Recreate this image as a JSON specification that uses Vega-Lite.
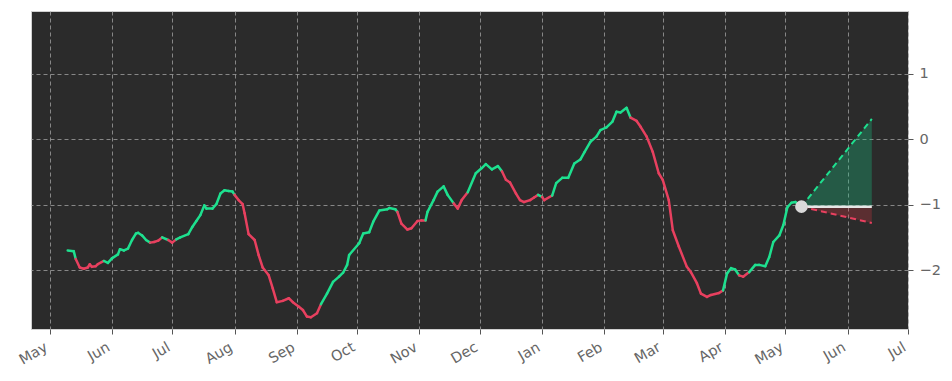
{
  "$schema": "https://vega.github.io/schema/vega-lite/v6.json",
  "width": 877,
  "height": 318,
  "autosize": {"type": "none"},
  "padding": {"left": 31, "top": 11, "right": 44, "bottom": 52},
  "background": "white",
  "config": {
    "view": {"fill": "#2b2b2b", "stroke": "#d0d0d0", "strokeWidth": 1},
    "axis": {"gridColor": "#a0a0a0", "gridDash": [4, 3], "gridWidth": 0.8, "domain": false, "tickColor": "#555555", "tickSize": 5, "labelColor": "#666666", "labelFont": "DejaVu Sans", "labelFontSize": 14.5, "title": null}
  },
  "layer": [
    {
      "data": {"values": [
        {"date": "2024/05/09", "base": -1.03, "upper": -1.03, "lower": -1.03},
        {"date": "2024/06/13", "base": -1.03, "upper": 0.31, "lower": -1.28}
      ], "format": {"parse": {"date": "date"}}},
      "layer": [
        {"mark": {"type": "area", "color": "#16c784", "opacity": 0.3},
         "encoding": {"x": {"field": "date", "type": "temporal"}, "y": {"field": "upper", "type": "quantitative"}, "y2": {"field": "base"}}},
        {"mark": {"type": "area", "color": "#ea3943", "opacity": 0.25},
         "encoding": {"x": {"field": "date", "type": "temporal"}, "y": {"field": "base", "type": "quantitative"}, "y2": {"field": "lower"}}}
      ]
    },
    {
      "data": {"values": [
        {"date": "2023/05/10", "value": -1.70, "trend": "up"},
        {"date": "2023/05/13", "value": -1.71, "trend": "up"},
        {"date": "2023/05/14", "value": -1.83, "trend": "down"},
        {"date": "2023/05/16", "value": -1.96, "trend": "down"},
        {"date": "2023/05/18", "value": -1.98, "trend": "down"},
        {"date": "2023/05/20", "value": -1.96, "trend": "down"},
        {"date": "2023/05/21", "value": -1.91, "trend": "down"},
        {"date": "2023/05/22", "value": -1.95, "trend": "down"},
        {"date": "2023/05/24", "value": -1.94, "trend": "down"},
        {"date": "2023/05/25", "value": -1.91, "trend": "down"},
        {"date": "2023/05/28", "value": -1.86, "trend": "up"},
        {"date": "2023/05/30", "value": -1.89, "trend": "up"},
        {"date": "2023/06/01", "value": -1.82, "trend": "up"},
        {"date": "2023/06/04", "value": -1.76, "trend": "up"},
        {"date": "2023/06/05", "value": -1.68, "trend": "up"},
        {"date": "2023/06/07", "value": -1.70, "trend": "up"},
        {"date": "2023/06/09", "value": -1.67, "trend": "up"},
        {"date": "2023/06/11", "value": -1.54, "trend": "up"},
        {"date": "2023/06/13", "value": -1.44, "trend": "up"},
        {"date": "2023/06/14", "value": -1.43, "trend": "up"},
        {"date": "2023/06/16", "value": -1.47, "trend": "up"},
        {"date": "2023/06/18", "value": -1.54, "trend": "up"},
        {"date": "2023/06/20", "value": -1.58, "trend": "down"},
        {"date": "2023/06/22", "value": -1.57, "trend": "down"},
        {"date": "2023/06/24", "value": -1.55, "trend": "down"},
        {"date": "2023/06/26", "value": -1.50, "trend": "up"},
        {"date": "2023/06/29", "value": -1.54, "trend": "down"},
        {"date": "2023/07/01", "value": -1.58, "trend": "down"},
        {"date": "2023/07/03", "value": -1.53, "trend": "up"},
        {"date": "2023/07/05", "value": -1.50, "trend": "up"},
        {"date": "2023/07/09", "value": -1.45, "trend": "up"},
        {"date": "2023/07/11", "value": -1.34, "trend": "up"},
        {"date": "2023/07/13", "value": -1.25, "trend": "up"},
        {"date": "2023/07/15", "value": -1.16, "trend": "up"},
        {"date": "2023/07/17", "value": -1.01, "trend": "up"},
        {"date": "2023/07/18", "value": -1.06, "trend": "up"},
        {"date": "2023/07/21", "value": -1.06, "trend": "up"},
        {"date": "2023/07/23", "value": -0.99, "trend": "up"},
        {"date": "2023/07/25", "value": -0.83, "trend": "up"},
        {"date": "2023/07/27", "value": -0.78, "trend": "up"},
        {"date": "2023/07/29", "value": -0.79, "trend": "up"},
        {"date": "2023/07/31", "value": -0.80, "trend": "up"},
        {"date": "2023/08/01", "value": -0.85, "trend": "down"},
        {"date": "2023/08/03", "value": -0.93, "trend": "down"},
        {"date": "2023/08/05", "value": -0.99, "trend": "down"},
        {"date": "2023/08/06", "value": -1.13, "trend": "down"},
        {"date": "2023/08/08", "value": -1.45, "trend": "down"},
        {"date": "2023/08/11", "value": -1.54, "trend": "down"},
        {"date": "2023/08/13", "value": -1.77, "trend": "down"},
        {"date": "2023/08/15", "value": -1.96, "trend": "down"},
        {"date": "2023/08/18", "value": -2.08, "trend": "down"},
        {"date": "2023/08/20", "value": -2.28, "trend": "down"},
        {"date": "2023/08/22", "value": -2.49, "trend": "down"},
        {"date": "2023/08/25", "value": -2.47, "trend": "down"},
        {"date": "2023/08/28", "value": -2.43, "trend": "down"},
        {"date": "2023/08/30", "value": -2.49, "trend": "down"},
        {"date": "2023/09/02", "value": -2.56, "trend": "down"},
        {"date": "2023/09/04", "value": -2.61, "trend": "down"},
        {"date": "2023/09/06", "value": -2.71, "trend": "down"},
        {"date": "2023/09/08", "value": -2.72, "trend": "down"},
        {"date": "2023/09/11", "value": -2.66, "trend": "down"},
        {"date": "2023/09/13", "value": -2.52, "trend": "up"},
        {"date": "2023/09/16", "value": -2.36, "trend": "up"},
        {"date": "2023/09/19", "value": -2.18, "trend": "up"},
        {"date": "2023/09/22", "value": -2.10, "trend": "up"},
        {"date": "2023/09/24", "value": -2.04, "trend": "up"},
        {"date": "2023/09/26", "value": -1.92, "trend": "up"},
        {"date": "2023/09/27", "value": -1.77, "trend": "up"},
        {"date": "2023/10/02", "value": -1.59, "trend": "up"},
        {"date": "2023/10/04", "value": -1.44, "trend": "up"},
        {"date": "2023/10/07", "value": -1.42, "trend": "up"},
        {"date": "2023/10/09", "value": -1.26, "trend": "up"},
        {"date": "2023/10/12", "value": -1.09, "trend": "up"},
        {"date": "2023/10/16", "value": -1.07, "trend": "up"},
        {"date": "2023/10/17", "value": -1.05, "trend": "up"},
        {"date": "2023/10/20", "value": -1.07, "trend": "up"},
        {"date": "2023/10/21", "value": -1.11, "trend": "down"},
        {"date": "2023/10/23", "value": -1.29, "trend": "down"},
        {"date": "2023/10/26", "value": -1.38, "trend": "down"},
        {"date": "2023/10/28", "value": -1.36, "trend": "down"},
        {"date": "2023/10/31", "value": -1.25, "trend": "down"},
        {"date": "2023/11/02", "value": -1.24, "trend": "down"},
        {"date": "2023/11/04", "value": -1.24, "trend": "up"},
        {"date": "2023/11/05", "value": -1.11, "trend": "up"},
        {"date": "2023/11/08", "value": -0.93, "trend": "up"},
        {"date": "2023/11/10", "value": -0.80, "trend": "up"},
        {"date": "2023/11/13", "value": -0.72, "trend": "up"},
        {"date": "2023/11/15", "value": -0.85, "trend": "up"},
        {"date": "2023/11/18", "value": -0.98, "trend": "down"},
        {"date": "2023/11/20", "value": -1.06, "trend": "down"},
        {"date": "2023/11/22", "value": -0.93, "trend": "down"},
        {"date": "2023/11/25", "value": -0.81, "trend": "up"},
        {"date": "2023/11/29", "value": -0.52, "trend": "up"},
        {"date": "2023/12/02", "value": -0.44, "trend": "up"},
        {"date": "2023/12/04", "value": -0.38, "trend": "up"},
        {"date": "2023/12/07", "value": -0.46, "trend": "up"},
        {"date": "2023/12/10", "value": -0.41, "trend": "up"},
        {"date": "2023/12/12", "value": -0.49, "trend": "down"},
        {"date": "2023/12/14", "value": -0.62, "trend": "down"},
        {"date": "2023/12/16", "value": -0.66, "trend": "down"},
        {"date": "2023/12/19", "value": -0.83, "trend": "down"},
        {"date": "2023/12/21", "value": -0.93, "trend": "down"},
        {"date": "2023/12/23", "value": -0.96, "trend": "down"},
        {"date": "2023/12/26", "value": -0.93, "trend": "down"},
        {"date": "2023/12/28", "value": -0.89, "trend": "down"},
        {"date": "2023/12/30", "value": -0.85, "trend": "up"},
        {"date": "2024/01/01", "value": -0.88, "trend": "down"},
        {"date": "2024/01/02", "value": -0.93, "trend": "down"},
        {"date": "2024/01/06", "value": -0.86, "trend": "up"},
        {"date": "2024/01/08", "value": -0.67, "trend": "up"},
        {"date": "2024/01/11", "value": -0.59, "trend": "up"},
        {"date": "2024/01/14", "value": -0.59, "trend": "up"},
        {"date": "2024/01/17", "value": -0.37, "trend": "up"},
        {"date": "2024/01/20", "value": -0.31, "trend": "up"},
        {"date": "2024/01/22", "value": -0.20, "trend": "up"},
        {"date": "2024/01/25", "value": -0.04, "trend": "up"},
        {"date": "2024/01/28", "value": 0.04, "trend": "up"},
        {"date": "2024/01/30", "value": 0.14, "trend": "up"},
        {"date": "2024/02/02", "value": 0.18, "trend": "up"},
        {"date": "2024/02/05", "value": 0.27, "trend": "up"},
        {"date": "2024/02/07", "value": 0.42, "trend": "up"},
        {"date": "2024/02/09", "value": 0.41, "trend": "up"},
        {"date": "2024/02/12", "value": 0.48, "trend": "up"},
        {"date": "2024/02/14", "value": 0.33, "trend": "down"},
        {"date": "2024/02/17", "value": 0.28, "trend": "down"},
        {"date": "2024/02/19", "value": 0.19, "trend": "down"},
        {"date": "2024/02/22", "value": 0.04, "trend": "down"},
        {"date": "2024/02/25", "value": -0.19, "trend": "down"},
        {"date": "2024/02/28", "value": -0.52, "trend": "down"},
        {"date": "2024/03/01", "value": -0.62, "trend": "down"},
        {"date": "2024/03/04", "value": -0.93, "trend": "down"},
        {"date": "2024/03/06", "value": -1.39, "trend": "down"},
        {"date": "2024/03/09", "value": -1.64, "trend": "down"},
        {"date": "2024/03/13", "value": -1.95, "trend": "down"},
        {"date": "2024/03/15", "value": -2.03, "trend": "down"},
        {"date": "2024/03/18", "value": -2.20, "trend": "down"},
        {"date": "2024/03/20", "value": -2.36, "trend": "down"},
        {"date": "2024/03/23", "value": -2.41, "trend": "down"},
        {"date": "2024/03/25", "value": -2.38, "trend": "down"},
        {"date": "2024/03/29", "value": -2.35, "trend": "down"},
        {"date": "2024/03/31", "value": -2.31, "trend": "up"},
        {"date": "2024/04/02", "value": -2.05, "trend": "up"},
        {"date": "2024/04/04", "value": -1.97, "trend": "up"},
        {"date": "2024/04/06", "value": -1.99, "trend": "up"},
        {"date": "2024/04/08", "value": -2.08, "trend": "down"},
        {"date": "2024/04/10", "value": -2.10, "trend": "down"},
        {"date": "2024/04/13", "value": -2.03, "trend": "up"},
        {"date": "2024/04/16", "value": -1.92, "trend": "up"},
        {"date": "2024/04/18", "value": -1.92, "trend": "up"},
        {"date": "2024/04/21", "value": -1.94, "trend": "up"},
        {"date": "2024/04/23", "value": -1.80, "trend": "up"},
        {"date": "2024/04/25", "value": -1.57, "trend": "up"},
        {"date": "2024/04/28", "value": -1.47, "trend": "up"},
        {"date": "2024/04/30", "value": -1.31, "trend": "up"},
        {"date": "2024/05/02", "value": -1.04, "trend": "up"},
        {"date": "2024/05/04", "value": -0.97, "trend": "up"},
        {"date": "2024/05/06", "value": -0.96, "trend": "up"},
        {"date": "2024/05/09", "value": -1.03, "trend": "up"}
      ], "format": {"parse": {"date": "date"}}},
      "transform": [
        {"window": [{"op": "lead", "field": "date", "as": "date2"}, {"op": "lead", "field": "value", "as": "value2"}], "sort": [{"field": "date"}]},
        {"filter": "datum.value2 != null"}
      ],
      "mark": {"type": "rule", "strokeWidth": 2.5, "strokeCap": "round"},
      "encoding": {
        "x": {"field": "date", "type": "temporal",
              "scale": {"domain": [{"year": 2023, "month": 4, "date": 21, "hours": 18}, {"year": 2024, "month": 7, "date": 1}]},
              "axis": {"values": [
                {"year": 2023, "month": 5, "date": 1}, {"year": 2023, "month": 6, "date": 1}, {"year": 2023, "month": 7, "date": 1},
                {"year": 2023, "month": 8, "date": 1}, {"year": 2023, "month": 9, "date": 1}, {"year": 2023, "month": 10, "date": 1},
                {"year": 2023, "month": 11, "date": 1}, {"year": 2023, "month": 12, "date": 1}, {"year": 2024, "month": 1, "date": 1},
                {"year": 2024, "month": 2, "date": 1}, {"year": 2024, "month": 3, "date": 1}, {"year": 2024, "month": 4, "date": 1},
                {"year": 2024, "month": 5, "date": 1}, {"year": 2024, "month": 6, "date": 1}, {"year": 2024, "month": 7, "date": 1}],
                "format": "%b", "labelAngle": -30, "labelAlign": "right", "labelBaseline": "top", "labelPadding": 6, "labelOffset": -7, "grid": true, "title": null}},
        "x2": {"field": "date2"},
        "y": {"field": "value", "type": "quantitative",
              "scale": {"domain": [-2.9, 1.96], "nice": false, "zero": false},
              "axis": {"orient": "right", "values": [-2, -1, 0, 1], "format": "d", "grid": true, "labelPadding": 6, "title": null}},
        "y2": {"field": "value2"},
        "color": {"field": "trend", "type": "nominal", "scale": {"domain": ["up", "down"], "range": ["#1ee08f", "#e8405f"]}, "legend": null}
      }
    },
    {
      "data": {"values": [
        {"date": "2024/05/09", "base": -1.03, "upper": -1.03, "lower": -1.03},
        {"date": "2024/06/13", "base": -1.03, "upper": 0.31, "lower": -1.28}
      ], "format": {"parse": {"date": "date"}}},
      "layer": [
        {"mark": {"type": "line", "color": "#e6e6e6", "strokeWidth": 2.5},
         "encoding": {"x": {"field": "date", "type": "temporal"}, "y": {"field": "base", "type": "quantitative"}}},
        {"mark": {"type": "line", "color": "#1ee08f", "strokeWidth": 2, "strokeDash": [6, 4]},
         "encoding": {"x": {"field": "date", "type": "temporal"}, "y": {"field": "upper", "type": "quantitative"}}},
        {"mark": {"type": "line", "color": "#e8405f", "strokeWidth": 2, "strokeDash": [6, 4]},
         "encoding": {"x": {"field": "date", "type": "temporal"}, "y": {"field": "lower", "type": "quantitative"}}}
      ]
    },
    {
      "data": {"values": [{"date": "2024/05/09", "value": -1.03}], "format": {"parse": {"date": "date"}}},
      "mark": {"type": "point", "filled": true, "color": "#d9d9d9", "opacity": 1, "size": 160},
      "encoding": {"x": {"field": "date", "type": "temporal"}, "y": {"field": "value", "type": "quantitative"}}
    }
  ]
}
